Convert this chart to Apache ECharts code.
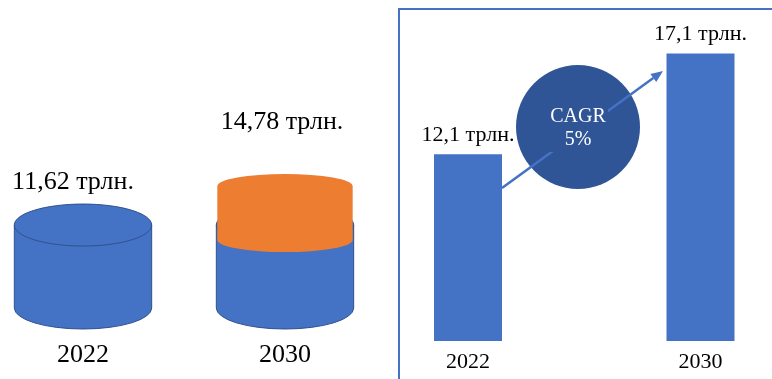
<!DOCTYPE html>
<html>
<head>
<meta charset="utf-8">
<script src="https://cdn.jsdelivr.net/npm/echarts@6/dist/echarts.min.js"></script>
<style>
  html, body { margin: 0; padding: 0; background: #ffffff; }
  #chart { width: 772px; height: 379px; }
</style>
</head>
<body>
<div id="chart"></div>
<script>
// Cylinder panel: market size, 2022 vs 2030
const cylYears = ['2022', '2030'];
const cylBase = [11.62, 11.62];        // blue cylinder top
const cylGrowthFrom = [null, 10.4];    // orange layer start
const cylTotal = [11.62, 14.78];       // total value shown in the label
const cylLabels = ['11,62 трлн.', '14,78 трлн.'];

// Bar panel: forecast, 2022 vs 2030
const barYears = ['2022', '2030'];
const barValues = [12.1, 17.1];
const barLabels = ['12,1 трлн.', '17,1 трлн.'];
const cagrLines = ['CAGR', '5%'];

// Styling
const BLUE = '#4472C4';
const BLUE_EDGE = '#2F528F';
const ORANGE = '#ED7D31';
const DARK_BLUE = '#2F5597';
const FONT = '"Liberation Serif", "Times New Roman", serif';
const LEFT_MIN = 4.9, LEFT_MAX = 20;
const RIGHT_MIN = 2.85, RIGHT_MAX = 19.3;
const cylLabelShift = [[-10, 22], [-3, 52]]; // x shift, gap above the shape

const chart = echarts.init(document.getElementById('chart'), null, { renderer: 'canvas' });

function renderCylinder(params, api) {
  const i = api.value(0);
  const base = api.value(1);
  const from = api.value(2);
  const total = api.value(3);
  const band = api.size([1, 0])[0];
  const rx = band * 0.34;
  const ry = 21;
  const cx = api.coord([i, base])[0];
  const yTop = api.coord([i, base])[1];
  const yBot = api.coord([i, LEFT_MIN])[1];
  const x1 = cx - rx, x2 = cx + rx;
  const children = [
    {
      type: 'path',
      shape: { pathData: `M ${x1} ${yTop} L ${x1} ${yBot} A ${rx} ${ry} 0 0 0 ${x2} ${yBot} L ${x2} ${yTop} Z` },
      style: { fill: BLUE, stroke: BLUE_EDGE, lineWidth: 1 }
    },
    {
      type: 'ellipse',
      shape: { cx: cx, cy: yTop, rx: rx, ry: ry },
      style: { fill: BLUE, stroke: BLUE_EDGE, lineWidth: 1 }
    }
  ];
  let shapeTop = yTop - ry;
  if (!isNaN(from) && from != null) {
    const orx = band * 0.335;
    const ory = 12;
    const oTop = api.coord([i, total])[1];
    const oBot = api.coord([i, from])[1];
    const ox1 = cx - orx, ox2 = cx + orx;
    children.push({
      type: 'path',
      shape: { pathData: `M ${ox1} ${oTop} L ${ox1} ${oBot} A ${orx} ${ory} 0 0 0 ${ox2} ${oBot} L ${ox2} ${oTop} A ${orx} ${ory} 0 0 0 ${ox1} ${oTop} Z` },
      style: { fill: ORANGE }
    });
    shapeTop = oTop - ory;
  }
  const shift = cylLabelShift[i];
  children.push({
    type: 'text',
    x: cx + shift[0],
    y: shapeTop - shift[1],
    style: {
      text: cylLabels[i],
      font: '26px ' + FONT,
      fill: '#000000',
      align: 'center',
      verticalAlign: 'middle'
    }
  });
  return { type: 'group', children: children };
}

const cylData = cylYears.map((y, i) => [i, cylBase[i], cylGrowthFrom[i] == null ? NaN : cylGrowthFrom[i], cylTotal[i]]);

// Arrow geometry for the CAGR annotation
const arrowStart = [502, 188];
const arrowTip = [663, 71];
const adx = arrowTip[0] - arrowStart[0], ady = arrowTip[1] - arrowStart[1];
const alen = Math.sqrt(adx * adx + ady * ady);
const ux = adx / alen, uy = ady / alen;
const headLen = 12, headHalf = 5;
const hb = [arrowTip[0] - ux * headLen, arrowTip[1] - uy * headLen];

chart.setOption({
  animation: false,
  backgroundColor: '#ffffff',
  grid: [
    { left: 83, right: 772 - 285, top: 121.6, bottom: 71 },
    { left: 468, right: 772 - 700.5, top: 9, bottom: 38 }
  ],
  xAxis: [
    {
      gridIndex: 0, type: 'category', data: cylYears, boundaryGap: false,
      axisLine: { show: false }, axisTick: { show: false }, splitLine: { show: false },
      axisLabel: { margin: 34, fontSize: 26, fontFamily: FONT, color: '#000000', interval: 0 }
    },
    {
      gridIndex: 1, type: 'category', data: barYears, boundaryGap: false,
      axisLine: { show: false }, axisTick: { show: false }, splitLine: { show: false },
      axisLabel: { margin: 10, fontSize: 22, fontFamily: FONT, color: '#000000', interval: 0 }
    }
  ],
  yAxis: [
    { gridIndex: 0, type: 'value', min: LEFT_MIN, max: LEFT_MAX, show: false, splitLine: { show: false } },
    { gridIndex: 1, type: 'value', min: RIGHT_MIN, max: RIGHT_MAX, show: false, splitLine: { show: false } }
  ],
  series: [
    {
      type: 'custom',
      xAxisIndex: 0, yAxisIndex: 0,
      renderItem: renderCylinder,
      data: cylData,
      clip: false,
      z: 2
    },
    {
      type: 'bar',
      xAxisIndex: 1, yAxisIndex: 1,
      data: barValues,
      barWidth: 68,
      itemStyle: { color: BLUE },
      label: {
        show: true,
        position: 'top',
        distance: 8,
        fontSize: 22,
        fontFamily: FONT,
        color: '#000000',
        formatter: p => barLabels[p.dataIndex]
      },
      z: 2
    }
  ],
  graphic: [
    {
      type: 'rect', z: 1, silent: true,
      shape: { x: 399, y: 9, width: 400, height: 400 },
      style: { fill: 'none', stroke: BLUE, lineWidth: 2 }
    },
    {
      type: 'circle', z: 10,
      shape: { cx: 578, cy: 127, r: 62 },
      style: { fill: DARK_BLUE }
    },
    {
      type: 'line', z: 11,
      shape: { x1: arrowStart[0], y1: arrowStart[1], x2: hb[0], y2: hb[1] },
      style: { stroke: BLUE, lineWidth: 2.5 }
    },
    {
      type: 'polygon', z: 11,
      shape: { points: [
        arrowTip,
        [hb[0] - uy * headHalf, hb[1] + ux * headHalf],
        [hb[0] + uy * headHalf, hb[1] - ux * headHalf]
      ] },
      style: { fill: BLUE }
    },
    {
      type: 'rect', z: 12,
      shape: { x: 550, y: 106, width: 58, height: 46 },
      style: { fill: DARK_BLUE }
    },
    {
      type: 'text', z: 13,
      x: 578, y: 128.5,
      style: {
        text: cagrLines.join('\n'),
        font: '20px ' + FONT,
        lineHeight: 23,
        fill: '#ffffff',
        align: 'center',
        verticalAlign: 'middle'
      }
    }
  ]
});
</script>
</body>
</html>
